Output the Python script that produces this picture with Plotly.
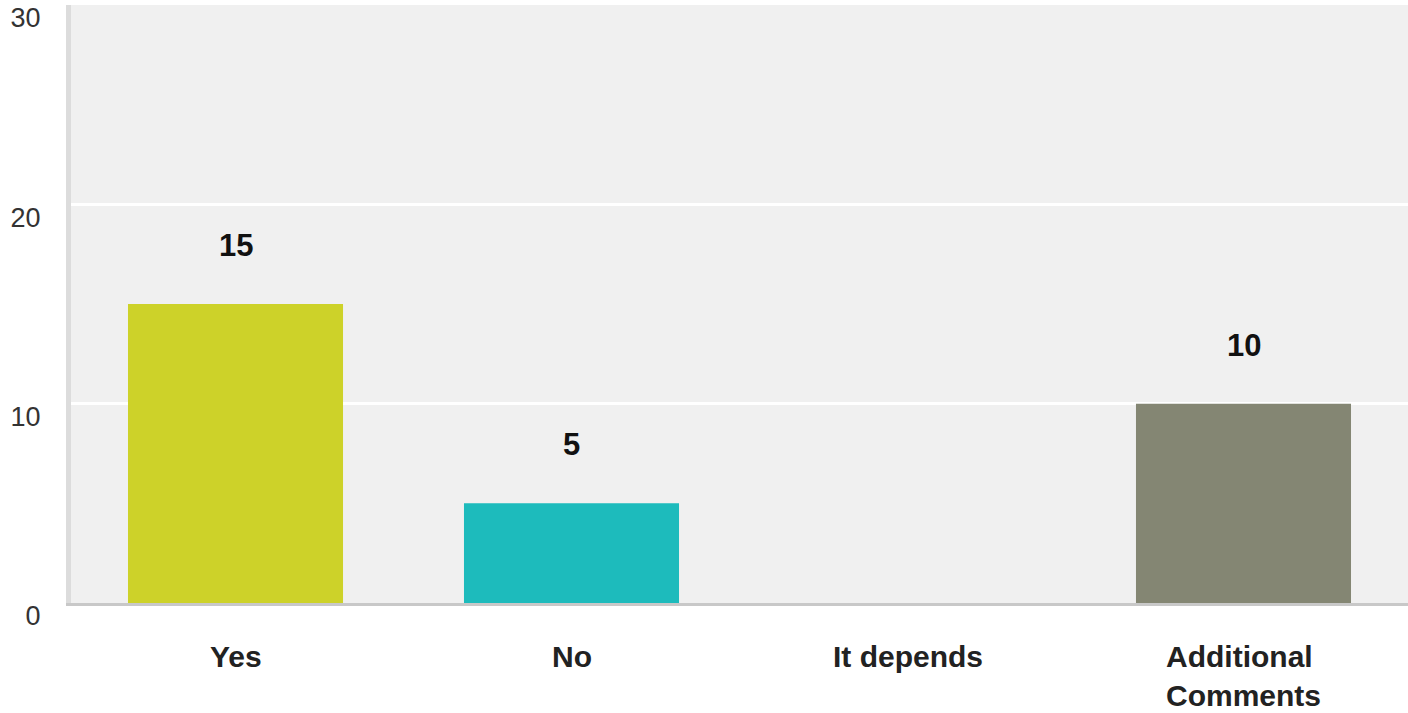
import plotly.graph_objects as go

categories = ["Yes", "No", "It depends", "Additional<br>Comments"]
values = [15, 5, 0, 10]
colors = ["#cdd229", "#1dbbbc", "#c0c0c0", "#848673"]
y_ticks = [0, 10, 20, 30]

fig = go.Figure()
fig.add_trace(go.Bar(x=categories, y=values, marker=dict(color=colors, line=dict(width=0)),
                     width=0.64, hoverinfo="skip"))

for c, v in zip(categories, values):
    if v > 0:
        fig.add_annotation(x=c, y=v, text="<b>" + str(v) + "</b>", showarrow=False, yanchor="bottom",
                           yshift=39, font=dict(family="Liberation Sans, Arial", size=31, color="#111111"))
    fig.add_annotation(x=c, y=0, text="<b>" + c + "</b>", showarrow=False, yanchor="top",
                       xanchor="center", align="left", yshift=-35,
                       font=dict(family="Liberation Sans, Arial", size=30, color="#222222"))

fig.update_layout(
    width=1408, height=713,
    margin=dict(l=71, r=0, t=5, b=110),
    paper_bgcolor="white", plot_bgcolor="#f0f0f0",
    showlegend=False,
    xaxis=dict(range=[-0.4896, 3.4896], showticklabels=False, showgrid=False, zeroline=False,
               showline=True, linecolor="#c8c8c8", linewidth=3, fixedrange=True),
    yaxis=dict(range=[0, 30], tickvals=y_ticks, ticktext=[str(t) for t in y_ticks],
               showgrid=True, gridcolor="white", gridwidth=3, zeroline=False,
               showline=True, linecolor="#dcdcdc", linewidth=5,
               ticks="", ticklabelstandoff=20, ticklabelshift=13,
               tickfont=dict(family="Liberation Sans, Arial", size=27, color="#333333")),
)

fig.write_html("out.html")
